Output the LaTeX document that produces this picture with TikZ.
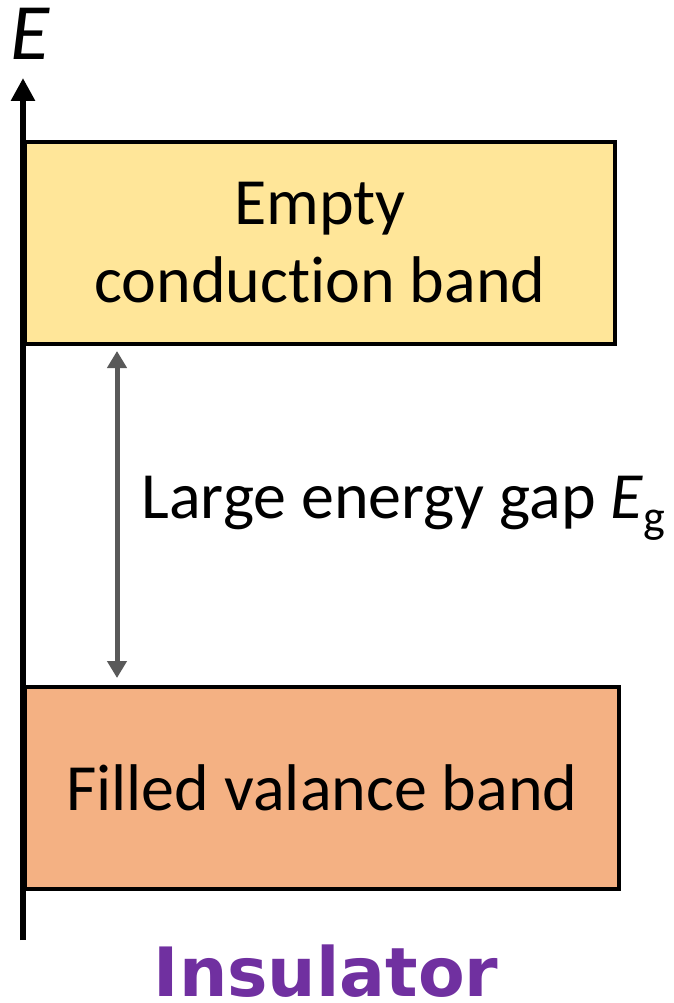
\documentclass[tikz,border=0pt]{standalone}
\usepackage{fontspec}
\setmainfont{Carlito}[Ligatures=NoCommon]
\newfontfamily\titlefont{DejaVu Sans}
\usetikzlibrary{arrows.meta}
\definecolor{condfill}{HTML}{FFE699}
\definecolor{valfill}{HTML}{F4B183}
\definecolor{gapgray}{HTML}{595959}
\definecolor{titlepurple}{HTML}{7030A0}

\begin{document}
\begin{tikzpicture}[x=1pt,y=-1pt,
  band/.style={draw=black, line width=4.5pt, inner sep=0pt, outer sep=0pt, align=center,
    font=\fontsize{66}{78}\selectfont},
  axisarrow/.style={line width=6.5pt, -{Triangle[width=23pt,length=23pt]}},
  gaparrow/.style={draw=gapgray, line width=5pt, {Triangle[width=19pt,length=17pt]}-{Triangle[width=19pt,length=17pt]}}]
\useasboundingbox (0,0) rectangle (674,1003);
% bands
\node[band, fill=condfill, minimum width=590pt, minimum height=202pt] (cb) at (320,243) {Empty\\conduction band};
\node[band, fill=valfill, minimum width=594pt, minimum height=202pt] (vb) at (322,788) {Filled valance band};
% energy axis
\coordinate (axbot) at (23,940);
\coordinate (axtop) at (23,78);
\draw[axisarrow] (axbot) -- (axtop);
\node[font=\fontsize{80}{82}\selectfont\itshape] (elabel) at (30,34) {E};
% gap
\coordinate (gx) at (117,0);
\draw[gaparrow, shorten <=7pt, shorten >=9pt] (cb.south -| gx) -- (vb.north -| gx);
\node[anchor=west, font=\fontsize{66}{78}\selectfont] (gaplabel) at (138,508) {Large energy gap \textit{E}\textsubscript{g}};
\node[anchor=base, inner sep=0pt, font=\titlefont\bfseries\fontsize{68}{70}\selectfont, text=titlepurple] (title) at (326,996) {Insulator};
\end{tikzpicture}
\end{document}
